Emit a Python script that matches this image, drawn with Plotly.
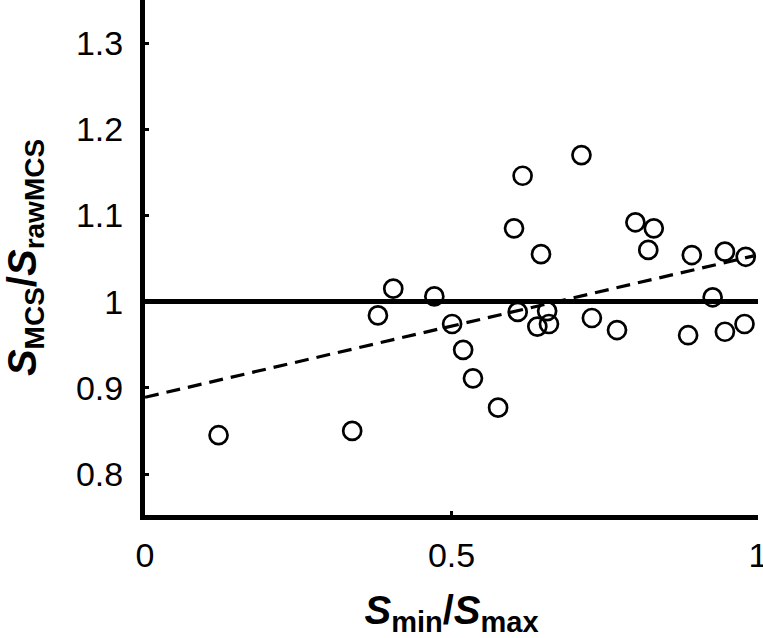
import plotly.graph_objects as go

# Data
s_ratio = [0.120, 0.338, 0.380, 0.405, 0.472, 0.501, 0.519, 0.535, 0.576, 0.602,
           0.608, 0.616, 0.640, 0.646, 0.656, 0.659, 0.712, 0.729, 0.770, 0.800,
           0.830, 0.821, 0.892, 0.886, 0.926, 0.946, 0.946, 0.980, 0.978]
mcs_ratio = [0.845, 0.850, 0.984, 1.015, 1.006, 0.974, 0.944, 0.911, 0.877, 1.085,
             0.988, 1.146, 0.971, 1.055, 0.989, 0.974, 1.170, 0.981, 0.967, 1.092,
             1.085, 1.060, 1.054, 0.961, 1.005, 1.058, 0.965, 1.052, 0.974]

ref_x = [0, 1]
ref_y = [1, 1]

fit_x = [0, 0.993]
fit_y = [0.889, 1.053]

x_ticks = [0, 0.5, 1]
x_ticklabels = ["0", "0.5", "1"]
y_ticks = [0.8, 0.9, 1.0, 1.1, 1.2, 1.3]
y_ticklabels = ["0.8", "0.9", "1", "1.1", "1.2", "1.3"]

fig = go.Figure()
fig.add_trace(go.Scatter(x=ref_x, y=ref_y, mode="lines",
                         line=dict(color="black", width=5), showlegend=False))
fig.add_trace(go.Scatter(x=fit_x, y=fit_y, mode="lines",
                         line=dict(color="black", width=3.2, dash="14px,8px"), showlegend=False))
fig.add_trace(go.Scatter(x=s_ratio, y=mcs_ratio, mode="markers",
                         marker=dict(symbol="circle-open", size=18, color="black",
                                     line=dict(width=2.7, color="black")),
                         showlegend=False))

font_family = "Liberation Sans, Arial, sans-serif"

fig.update_layout(
    width=763, height=638,
    margin=dict(l=145, r=5, t=0, b=123, autoexpand=False),
    plot_bgcolor="white", paper_bgcolor="white",
    font=dict(family=font_family, color="black", size=34),
)
fig.update_xaxes(
    range=[0, 1], tickvals=x_ticks, ticktext=x_ticklabels,
    showgrid=False, zeroline=False,
    showline=True, linecolor="black", linewidth=5,
    ticks="inside", ticklen=4, tickwidth=3, tickcolor="black",
    tickfont=dict(size=34, family=font_family), ticklabelstandoff=6,
    ticklabeloverflow="allow",
    title=dict(text="<b><i>S</i><sub><span style='font-size:29px'>min</span></sub>/"
                    "<i>S</i><sub><span style='font-size:29px'>max</span></sub></b>",
               font=dict(size=40, family=font_family), standoff=26),
)
fig.update_yaxes(
    range=[0.75244, 1.34988], tickvals=y_ticks, ticktext=y_ticklabels,
    showgrid=False, zeroline=False,
    showline=True, linecolor="black", linewidth=5,
    ticks="inside", ticklen=4, tickwidth=3, tickcolor="black",
    tickfont=dict(size=34, family=font_family), ticklabelstandoff=10,
    ticklabeloverflow="allow",
    title=dict(text="<b><i>S</i><sub><span style='font-size:28px'>MCS</span></sub>/"
                    "<i>S</i><sub><span style='font-size:28px'>rawMCS</span></sub></b>",
               font=dict(size=40, family=font_family), standoff=34),
)

# remove the browser's default 8px body margin so the figure fills the window
fig.write_html("out.html", config={"displayModeBar": False},
               post_script="document.body.style.margin='0px';")
